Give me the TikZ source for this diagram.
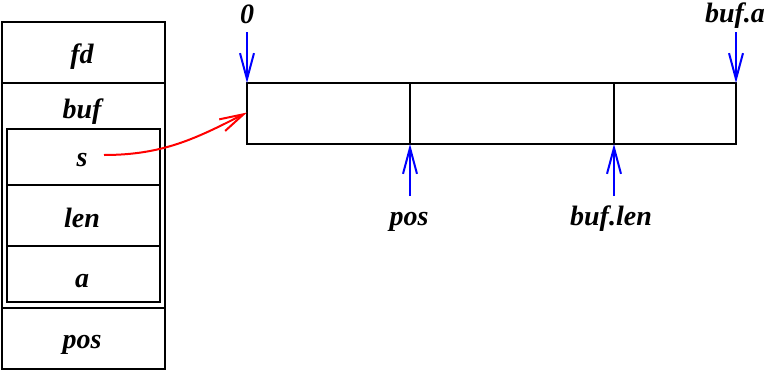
\documentclass[tikz,border=0pt]{standalone}
\usepackage{fontspec}
\setmainfont{Liberation Serif}
\usetikzlibrary{arrows.meta}
\tikzset{
  cell/.style={draw=black, line width=2pt, rectangle, inner sep=0pt, outer sep=0pt},
  lbl/.style={anchor=base, inner sep=0pt, font=\fontsize{28}{30}\selectfont\bfseries\itshape},
  ptr/.style={draw=blue, line width=2pt, -{Straight Barb[length=26pt,width=14pt,line width=2pt]}},
  refarrow/.style={draw=red, line width=2pt, -{Straight Barb[length=24pt,width=13pt,line width=2pt]}}
}
\begin{document}
\begin{tikzpicture}[x=1pt,y=-1pt]
\useasboundingbox (0,0) rectangle (768,370);
% struct
\node[cell, minimum width=163pt, minimum height=61pt] (fd) at (83.5,52.5) {};
\node[cell, minimum width=163pt, minimum height=225pt] (buf) at (83.5,195.5) {};
\node[cell, minimum width=153pt, minimum height=56pt] (s) at (83.5,157) {};
\node[cell, minimum width=153pt, minimum height=61pt] (len) at (83.5,215.5) {};
\node[cell, minimum width=153pt, minimum height=56pt] (a) at (83.5,274) {};
\node[cell, minimum width=163pt, minimum height=61pt] (pos) at (83.5,338.5) {};
\node[lbl] (tfd) at (82,63) {fd};
\node[lbl] (tbuf) at (82,118) {buf};
\node[lbl] (ts) at (82,166) {s};
\node[lbl] (tlen) at (82,227) {len};
\node[lbl] (ta) at (82,287) {a};
\node[lbl] (tpos) at (82,348) {pos};
% buffer
\node[cell, minimum width=163pt, minimum height=61pt] (b1) at (328.5,113.5) {};
\node[cell, minimum width=204pt, minimum height=61pt] (b2) at (512,113.5) {};
\node[cell, minimum width=122pt, minimum height=61pt] (b3) at (675,113.5) {};
% labels
\node[lbl] (t0) at (247,23) {0};
\node[lbl] (tbufa) at (735,22) {buf.a};
\node[lbl] (tposb) at (409,225) {pos};
\node[lbl] (tbuflen) at (611,225) {buf.len};
% pointers
\coordinate (p0) at (247,32);
\coordinate (pa) at (736,32);
\coordinate (ppos) at (410,196);
\coordinate (plen) at (614,196);
\draw[ptr] (p0) -- (b1.north west);
\draw[ptr] (pa) -- (b3.north east);
\draw[ptr] (ppos) -- (b1.south east);
\draw[ptr] (plen) -- (b2.south east);
\coordinate (sref) at (104,155);
\draw[refarrow] (sref) to[out=0, in=207] ([yshift=1pt]b1.west);
\end{tikzpicture}
\end{document}
